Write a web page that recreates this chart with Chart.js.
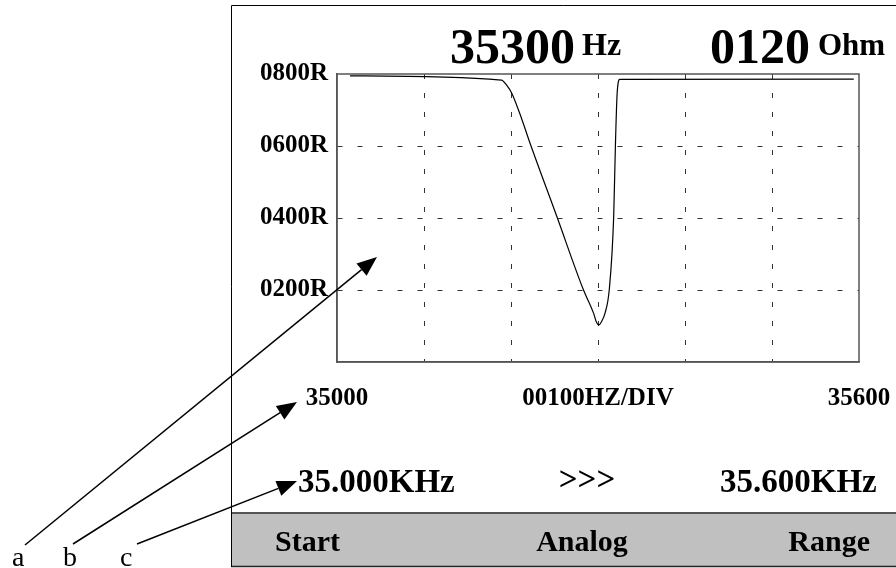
<!DOCTYPE html>
<html>
<head>
<meta charset="utf-8">
<script src="https://cdn.jsdelivr.net/npm/chart.js@4.4.1/dist/chart.umd.min.js"></script>
<style>
  html, body { margin: 0; padding: 0; background: #fff; }
  canvas { display: block; }
</style>
</head>
<body>
<canvas id="scope" width="896" height="568"></canvas>
<script>
// Barrido de frecuencia: impedancia frente a frecuencia
const frecuencias = [35015, 35189, 35195, 35201, 35210, 35222, 35253, 35283, 35295, 35298, 35301, 35304, 35308, 35313, 35318, 35320, 35322, 35325, 35594];
const impedancias = [795, 783, 769, 746, 691, 607, 402, 202, 135, 112, 103, 112, 135, 202, 402, 600, 746, 785, 786];

// Ticks y etiquetas
const yTicks = [200, 400, 600, 800];
const yTickLabels = ['0200R', '0400R', '0600R', '0800R'];
const xTicks = [35000, 35300, 35600];
const xTickLabels = ['35000', '00100HZ/DIV', '35600'];

// Textos del panel
const lecturaFrecuencia = ['35300', 'Hz'];
const lecturaImpedancia = ['0120', 'Ohm'];
const rango = ['35.000KHz', '>>>', '35.600KHz'];
const botones = ['Start', 'Analog', 'Range'];
const letras = ['a', 'b', 'c'];

const SERIF = '"Liberation Serif", "Times New Roman", serif';

function texto(ctx, str, x, y, size, align, bold = true) {
    ctx.font = `${bold ? 'bold ' : ''}${size}px ${SERIF}`;
    ctx.textAlign = align;
    ctx.textBaseline = 'alphabetic';
    ctx.fillStyle = '#000';
    ctx.fillText(str, x, y);
}

function flecha(ctx, x1, y1, x2, y2) {
    const ang = Math.atan2(y2 - y1, x2 - x1);
    const len = 20, half = 8;
    const bx = x2 - len * Math.cos(ang), by = y2 - len * Math.sin(ang);
    ctx.beginPath();
    ctx.moveTo(x1, y1);
    ctx.lineTo(bx, by);
    ctx.stroke();
    ctx.beginPath();
    ctx.moveTo(x2, y2);
    ctx.lineTo(bx + half * Math.sin(ang), by - half * Math.cos(ang));
    ctx.lineTo(bx - half * Math.sin(ang), by + half * Math.cos(ang));
    ctx.closePath();
    ctx.fill();
}

// Plugin para el marco, la barra de botones y las anotaciones
const panelPlugin = {
    id: 'panel',
    beforeDraw(chart) {
        const ctx = chart.ctx;
        ctx.save();
        ctx.fillStyle = '#fff';
        ctx.fillRect(0, 0, chart.width, chart.height);
        // barra gris inferior
        ctx.fillStyle = '#c0c0c0';
        ctx.fillRect(231, 513, chart.width, 54);
        ctx.strokeStyle = '#555';
        ctx.lineWidth = 2;
        ctx.beginPath(); ctx.moveTo(231, 513); ctx.lineTo(chart.width, 513); ctx.stroke();
        ctx.strokeStyle = '#222';
        ctx.lineWidth = 1.5;
        ctx.beginPath(); ctx.moveTo(231, 566.5); ctx.lineTo(chart.width, 566.5); ctx.stroke();
        // marco exterior
        ctx.strokeStyle = '#000';
        ctx.lineWidth = 1;
        ctx.beginPath();
        ctx.moveTo(chart.width, 5.5);
        ctx.lineTo(231.5, 5.5);
        ctx.lineTo(231.5, 567);
        ctx.stroke();
        ctx.restore();
    },
    beforeDatasetsDraw(chart) {
        const { ctx, chartArea: a } = chart;
        ctx.save();
        ctx.strokeStyle = '#555';
        ctx.lineWidth = 1.5;
        ctx.strokeRect(a.left, a.top, a.right - a.left, a.bottom - a.top);
        ctx.restore();
    },
    afterDraw(chart) {
        const ctx = chart.ctx;
        ctx.save();
        texto(ctx, lecturaFrecuencia[0], 450, 63, 50, 'left');
        texto(ctx, lecturaFrecuencia[1], 582, 55, 32, 'left');
        texto(ctx, lecturaImpedancia[0], 710, 63, 50, 'left');
        texto(ctx, lecturaImpedancia[1], 818, 55, 31, 'left');

        texto(ctx, rango[0], 298, 492, 33, 'left');
        texto(ctx, rango[1], 587, 490, 33, 'center');
        texto(ctx, rango[2], 720, 492, 33, 'left');

        texto(ctx, botones[0], 275, 551, 30, 'left');
        texto(ctx, botones[1], 582, 551, 30, 'center');
        texto(ctx, botones[2], 870, 551, 30, 'right');

        texto(ctx, letras[0], 12, 566, 28, 'left', false);
        texto(ctx, letras[1], 63, 566, 28, 'left', false);
        texto(ctx, letras[2], 120, 566, 28, 'left', false);

        ctx.strokeStyle = '#000';
        ctx.fillStyle = '#000';
        ctx.lineWidth = 1.5;
        flecha(ctx, 25, 545, 377, 257);
        flecha(ctx, 73, 544, 297, 402);
        flecha(ctx, 137, 544, 297, 481);
        ctx.restore();
    }
};

const gridColor = (min, max) => (c) =>
    (c.tick && (c.tick.value === min || c.tick.value === max)) ? 'rgba(0,0,0,0)' : '#333';

const ctx = document.getElementById('scope').getContext('2d');
new Chart(ctx, {
    type: 'line',
    data: {
        datasets: [{
            data: frecuencias.map((f, i) => ({ x: f, y: impedancias[i] })),
            borderColor: '#000',
            borderWidth: 1.2,
            pointRadius: 0,
            fill: false,
            cubicInterpolationMode: 'monotone'
        }]
    },
    options: {
        responsive: false,
        animation: false,
        devicePixelRatio: 1,
        layout: { padding: { left: 231, top: 74, right: 37, bottom: 0 } },
        plugins: { legend: { display: false }, tooltip: { enabled: false } },
        scales: {
            x: {
                type: 'linear',
                min: 35000,
                max: 35600,
                afterFit: (s) => { s.height = 206; s.paddingLeft = 0; s.paddingRight = 0; },
                ticks: {
                    stepSize: 100,
                    autoSkip: false,
                    maxRotation: 0,
                    padding: 22,
                    color: '#000',
                    font: { family: SERIF, size: 25, weight: 'bold' },
                    callback: (v) => {
                        const i = xTicks.indexOf(v);
                        return i >= 0 ? xTickLabels[i] : '';
                    }
                },
                grid: { color: gridColor(35000, 35600), lineWidth: 1, drawTicks: false },
                border: { display: true, color: '#555', width: 1.5, dash: [5, 14] }
            },
            y: {
                min: 0,
                max: 800,
                afterFit: (s) => { s.width = 106; s.paddingTop = 0; s.paddingBottom = 0; },
                ticks: {
                    stepSize: 200,
                    padding: 9,
                    color: '#000',
                    font: { family: SERIF, size: 25, weight: 'bold' },
                    callback: (v) => {
                        const i = yTicks.indexOf(v);
                        return i >= 0 ? yTickLabels[i] : '';
                    }
                },
                grid: { color: gridColor(0, 800), lineWidth: 1, drawTicks: false },
                border: { display: true, color: '#555', width: 1.5, dash: [5, 15] }
            }
        }
    },
    plugins: [panelPlugin]
});
</script>
</body>
</html>
